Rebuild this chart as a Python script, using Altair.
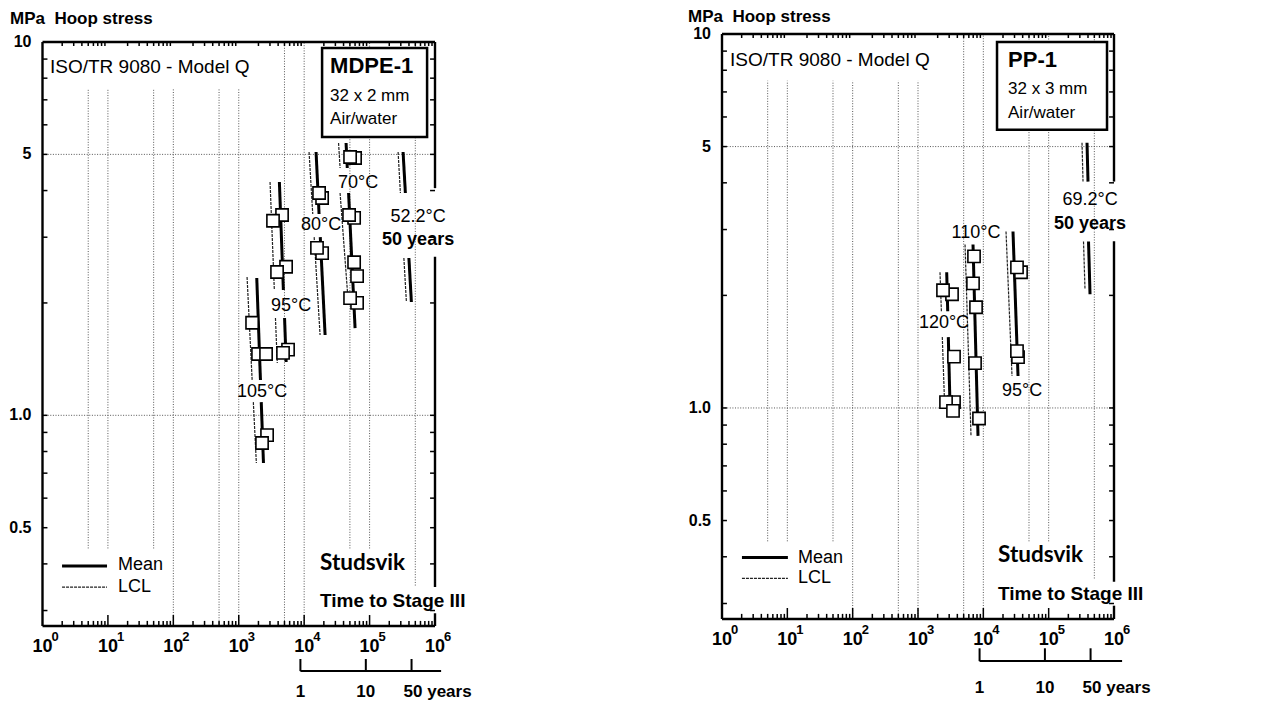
import altair as alt
import pandas as pd

# ---------------- axis / tick values (shared by both panels) ----------------
S_MIN, S_MAX = 0.2727, 10.0
T_MIN, T_MAX = 1.0, 1.0e6

DECADES = [1, 10, 100, 1000, 10000, 100000, 1000000]
DECADE_EXP = ["0", "1", "2", "3", "4", "5", "6"]
X_MINOR = [k * 10 ** n for n in range(6) for k in range(2, 10)]
Y_TICKS = [0.3, 0.4, 0.5, 0.6, 0.7, 0.8, 0.9, 1, 2, 3, 4, 5, 6, 7, 8, 9]
Y_LABEL_VALUES = [10, 5, 1.0, 0.5]
Y_LABELS = ["10", "5", "1.0", "0.5"]
GRID_H = [5, 1]
GRID_V = [5, 10, 50, 100, 500, 1000, 5000, 10000, 50000, 100000, 500000]
GRID_V_TOP = [7.5, 7.5, 7.5, 7.5, 7.5, 7.5, 10, 10, 10, 10, 10]
GRID_V_BOTTOM = [0.44, 0.44, 0.44, S_MIN, S_MIN, S_MIN, S_MIN, S_MIN, 0.44, 0.44, 0.35]
YEAR_HOURS = [8760, 87600, 438000]
YEAR_LABELS = ["1", "10", "50 years"]

# ---------------- left panel: MDPE-1 ----------------
L_SQ_T = [60000, 50350, 58000, 48600, 64400, 58000, 64400, 50350,
          18800, 16900, 18800, 15700,
          4590, 3340, 5290, 3850, 5670, 4750,
          1600, 1973, 2615, 2710, 2270]
L_SQ_S = [4.89, 4.92, 3.38, 3.44, 2.36, 2.57, 2.00, 2.06,
          3.82, 3.94, 2.72, 2.81,
          3.44, 3.32, 2.50, 2.42, 1.50, 1.47,
          1.77, 1.46, 1.46, 0.885, 0.843]
L_MEAN = [(43700, 5.363, 45600, 4.598), (47750, 3.94, 60000, 1.713),      # 70 C
          (15200, 5.075, 16900, 3.461), (17630, 3.002, 20890, 1.641),     # 80 C
          (4180, 4.217, 4810, 2.166), (5015, 1.822, 5305, 1.389),         # 95 C
          (1885, 2.332, 2147, 1.243), (2208, 1.085, 2387, 0.745),         # 105 C
          (325000, 5.075, 352600, 3.94), (399000, 2.639, 435500, 2.012)]  # 52.2 C
L_LCL = [(33560, 5.363, 35400, 4.598), (35400, 3.94, 46900, 2.037),
         (11880, 5.075, 13530, 3.461), (14220, 3.002, 17500, 1.641),
         (3010, 4.217, 3500, 2.166), (3640, 1.822, 3880, 1.381),
         (1340, 2.347, 1603, 1.243), (1671, 1.085, 1858, 0.745),
         (272900, 5.075, 295800, 3.94), (334300, 2.639, 365400, 2.012)]
L_TEMP_LABELS = ["70°C", "80°C", "95°C", "105°C", "52.2°C"]
L_TEMP_T = [66700, 18130, 6310, 2270, 552000]
L_TEMP_S = [4.19, 3.235, 1.963, 1.155, 3.398]
L_BOX_LINES = ["32 x 2 mm", "Air/water"]

# ---------------- right panel: PP-1 ----------------
R_SQ_T = [7200, 6950, 7730, 7460, 8590,
          3316, 2415, 3557, 3557, 2685, 3435,
          37740, 32750, 33960, 32750]
R_SQ_S = [2.543, 2.154, 1.859, 1.318, 0.937,
          2.014, 2.064, 1.372, 1.037, 1.037, 0.982,
          2.306, 2.377, 1.368, 1.419]
R_MEAN = [(6950, 2.737, 8290, 0.842),                                     # 110 C
          (2750, 2.306, 2850, 1.814), (2911, 1.547, 3090, 1.012),         # 120 C
          (28450, 2.965, 33960, 1.217),                                   # 95 C
          (386400, 5.121, 400200, 4.030), (407400, 2.788, 429500, 2.014)] # 69.2 C
R_LCL = [(5250, 2.737, 6475, 0.842),
         (2172, 2.306, 2280, 1.814), (2355, 1.547, 2537, 1.057),
         (22240, 2.965, 27480, 1.217),
         (323900, 5.121, 335600, 4.030), (341400, 2.788, 359900, 2.077)]
R_TEMP_LABELS = ["110°C", "120°C", "95°C", "69.2°C"]
R_TEMP_T = [7730, 2500, 39100, 429500]
R_TEMP_S = [2.929, 1.686, 1.11, 3.609]
R_BOX_LINES = ["32 x 3 mm", "Air/water"]

FONT = "Liberation Sans"


def panel(cfg):
    xs = alt.Scale(type="log", domain=[T_MIN, T_MAX], range=cfg["xrange"], nice=False)
    ys = alt.Scale(type="log", domain=[S_MIN, S_MAX], range=cfg["yrange"], nice=False)

    def X(f):
        return alt.X(f, type="quantitative", scale=xs, axis=None)

    def Y(f):
        return alt.Y(f, type="quantitative", scale=ys, axis=None)

    def rules(rows, **kw):
        df = pd.DataFrame(rows, columns=["t1", "s1", "t2", "s2"])
        return alt.Chart(df).mark_rule(**kw).encode(
            x=X("t1"), y=Y("s1"), x2=alt.X2("t2"), y2=alt.Y2("s2"))

    def texts(ts, ss, labels, **kw):
        df = pd.DataFrame({"t": ts, "s": ss, "label": labels})
        kw.setdefault("font", FONT)
        kw.setdefault("color", "black")
        kw.setdefault("baseline", "middle")
        return alt.Chart(df).mark_text(**kw).encode(x=X("t"), y=Y("s"), text="label:N")

    layers = []
    # grid
    layers.append(rules([(t, b, t, tp) for t, b, tp in zip(GRID_V, GRID_V_BOTTOM, GRID_V_TOP)],
                        color="#444", strokeWidth=0.9, strokeDash=[1, 1.6]))
    layers.append(rules([(T_MIN, s, T_MAX, s) for s in GRID_H],
                        color="#444", strokeWidth=0.9, strokeDash=[1, 1.6]))
    # ticks (inward)
    tick_rows = []
    for t in X_MINOR:
        tick_rows.append((t, S_MIN, t, S_MIN * 1.032))
        tick_rows.append((t, S_MAX, t, S_MAX / 1.025))
    for t in DECADES[1:-1]:
        tick_rows.append((t, S_MIN, t, S_MIN * 1.07))
    for s in Y_TICKS:
        tick_rows.append((T_MIN, s, T_MIN * 1.19, s))
        tick_rows.append((T_MAX, s, T_MAX / 1.19, s))
    layers.append(rules(tick_rows, color="black", strokeWidth=1.5))
    # frame
    frame = [(T_MIN, S_MIN, T_MIN, S_MAX), (T_MIN, S_MIN, T_MAX, S_MIN),
             (T_MIN, S_MAX, T_MAX, S_MAX)]
    frame += [(T_MAX, a, T_MAX, b) for a, b in cfg["right_frame"]]
    layers.append(rules(frame, color="black", strokeWidth=2.4))
    # regression lines
    layers.append(rules(cfg["lcl"], color="#222", strokeWidth=1.2, strokeDash=[3, 1]))
    layers.append(rules(cfg["mean"], color="black", strokeWidth=3))
    # legend lines
    lt0, lt1, lsm, lsl = cfg["legend_line"]
    layers.append(rules([(lt0, lsm, lt1, lsm)], color="black", strokeWidth=3))
    layers.append(rules([(lt0, lsl, lt1, lsl)], color="#222", strokeWidth=1.2, strokeDash=[3, 1]))
    # squares
    sq = pd.DataFrame({"t": cfg["sq_t"], "s": cfg["sq_s"]})
    layers.append(alt.Chart(sq).mark_square(size=150, fill="white", stroke="black",
                                             strokeWidth=1.6, opacity=1, fillOpacity=1)
                  .encode(x=X("t"), y=Y("s")))
    # box
    bt0, bt1, bs0, bs1 = cfg["box"]
    box = pd.DataFrame({"t1": [bt0], "t2": [bt1], "s1": [bs0], "s2": [bs1]})
    layers.append(alt.Chart(box).mark_rect(fill="white", stroke="black", strokeWidth=2.5)
                  .encode(x=X("t1"), x2=alt.X2("t2"), y=Y("s1"), y2=alt.Y2("s2")))
    # year scale
    ys_bar, ys_top = cfg["year_bar"]
    layers.append(rules([(YEAR_HOURS[0], ys_bar, cfg["year_end"], ys_bar)],
                        color="black", strokeWidth=2))
    layers.append(rules([(t, ys_bar, t, ys_top) for t in YEAR_HOURS], color="black", strokeWidth=2))

    # texts
    iso_t, iso_s = cfg["iso"]
    layers.append(texts([iso_t], [iso_s], ["ISO/TR 9080 - Model Q"], fontSize=19, align="left"))
    nt, ns = cfg["name_pos"]
    layers.append(texts([nt], [ns], [cfg["name"]], fontSize=22, fontWeight="bold", align="left"))
    layers.append(texts([nt, nt], cfg["box_line_s"], cfg["box_lines"], fontSize=17, align="left"))
    layers.append(texts(cfg["temp_t"], cfg["temp_s"], cfg["temp_labels"], fontSize=18, align="center"))
    yt, ysy = cfg["years50"]
    layers.append(texts([yt], [ysy], ["50 years"], fontSize=18, fontWeight="bold", align="center"))
    mt, ms, msl = cfg["legend_text"]
    layers.append(texts([mt, mt], [ms, msl], ["Mean", "LCL"], fontSize=18, align="left"))
    st, ss, ts3 = cfg["studsvik"]
    layers.append(texts([st], [ss], ["Studsvik"], fontSize=22.5, fontWeight="bold", font="Lato",
                        align="left"))
    layers.append(texts([st], [ts3], ["Time to Stage III"], fontSize=19, fontWeight="bold", align="left"))
    # title
    layers.append(texts([T_MIN], [S_MAX], ["MPa\u00a0 Hoop stress"], fontSize=17, fontWeight="bold",
                        align="left", dx=cfg["title_dx"], dy=cfg["title_dy"]))
    # y labels
    layers.append(texts([T_MIN] * 4, Y_LABEL_VALUES, Y_LABELS, fontSize=16, fontWeight="bold",
                        align="right", dx=-11))
    # x labels (10 with superscript exponent)
    layers.append(texts(DECADES, [S_MIN] * 7, ["10"] * 7, fontSize=18, fontWeight="bold",
                        align="center", dy=21))
    layers.append(texts(DECADES, [S_MIN] * 7, DECADE_EXP, fontSize=13, fontWeight="bold",
                        align="left", dx=9, dy=11))
    # year labels
    layers.append(texts(YEAR_HOURS[:2], [S_MIN] * 2, YEAR_LABELS[:2], fontSize=17, fontWeight="bold",
                        align="center", dy=cfg["year_dy"]))
    layers.append(texts(YEAR_HOURS[2:], [S_MIN], YEAR_LABELS[2:], fontSize=17, fontWeight="bold",
                        align="left", dx=-8, dy=cfg["year_dy"]))
    return alt.layer(*layers)


left_cfg = dict(
    xrange=[34.5, 427], yrange=[618, 34],
    right_frame=[(4.06, S_MAX), (0.347, 2.66), (S_MIN, 0.295)],
    mean=L_MEAN, lcl=L_LCL, sq_t=L_SQ_T, sq_s=L_SQ_S,
    legend_line=(1.99, 9.69, 0.3948, 0.3467),
    box=(18790, 757000, 5.567, 9.64),
    year_bar=(0.2065, 0.2225), year_end=1.24e6, year_dy=66,
    iso=(1.30, 8.57), name="MDPE-1", name_pos=(24900, 8.63),
    box_line_s=[7.165, 6.22], box_lines=L_BOX_LINES,
    temp_t=L_TEMP_T, temp_s=L_TEMP_S, temp_labels=L_TEMP_LABELS,
    years50=(552000, 2.948),
    legend_text=(14.3, 0.397, 0.3478),
    studsvik=(17500, 0.402, 0.318),
    title_dx=-32.5, title_dy=-23.5,
)
right_cfg = dict(
    xrange=[714, 1106], yrange=[611, 26],
    right_frame=[(4.03, S_MAX), (0.343, 2.79), (S_MIN, 0.296)],
    mean=R_MEAN, lcl=R_LCL, sq_t=R_SQ_T, sq_s=R_SQ_S,
    legend_line=(2.02, 10.2, 0.398, 0.35),
    box=(16200, 782000, 5.546, 9.52),
    year_bar=(0.2104, 0.2277), year_end=1.33e6, year_dy=69,
    iso=(1.33, 8.52), name="PP-1", name_pos=(23880, 8.52),
    box_line_s=[7.134, 6.157], box_lines=R_BOX_LINES,
    temp_t=R_TEMP_T, temp_s=R_TEMP_S, temp_labels=R_TEMP_LABELS,
    years50=(429500, 3.113),
    legend_text=(14.6, 0.398, 0.35),
    studsvik=(16790, 0.4055, 0.319),
    title_dx=-34, title_dy=-17.5,
)

chart = (
    alt.layer(panel(left_cfg), panel(right_cfg))
    .resolve_scale(x="independent", y="independent")
    .properties(width=1269, height=693, padding=0,
                autosize=alt.AutoSizeParams(type="none"), background="white")
    .configure_view(stroke=None)
)

chart.save("out.html", embed_options={"renderer": "svg", "actions": False})
